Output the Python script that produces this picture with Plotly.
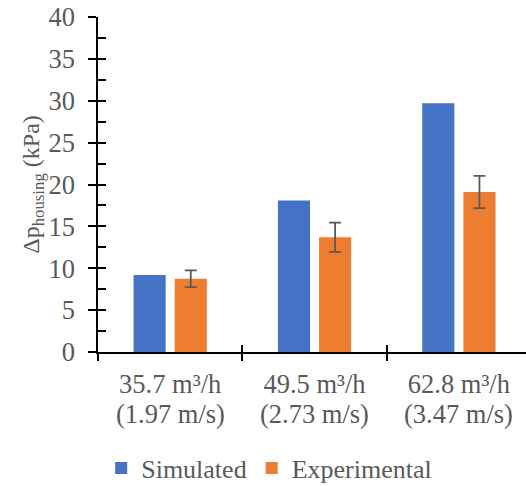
import plotly.graph_objects as go

flow_labels = ["35.7 m³/h", "49.5 m³/h", "62.8 m³/h"]
velocity_labels = ["(1.97 m/s)", "(2.73 m/s)", "(3.47 m/s)"]
simulated = [9.2, 18.1, 29.7]
experimental = [8.75, 13.7, 19.1]
exp_err = [1.0, 1.75, 1.93]
y_ticks = [0, 5, 10, 15, 20, 25, 30, 35, 40]

xpos = list(range(len(flow_labels)))
FONT = "Liberation Serif"
GRAY = "#595959"
fnt = dict(family=FONT, size=26.5, color=GRAY)

fig = go.Figure()
fig.add_trace(go.Bar(x=xpos, y=simulated, name="Simulated", marker=dict(color="#4472C4", line=dict(width=0))))
fig.add_trace(go.Bar(x=xpos, y=experimental, name="Experimental",
                     marker=dict(color="#ED7D31", line=dict(width=0)),
                     error_y=dict(type="data", array=exp_err, visible=True, color=GRAY, thickness=1.8, width=6)))

fig.update_layout(
    width=526, height=486,
    margin=dict(l=98, r=0, t=17, b=134),
    paper_bgcolor="white", plot_bgcolor="white",
    font=fnt,
    barmode="group", bargap=0.43, bargroupgap=0.22,
    showlegend=True,
    legend=dict(orientation="h", x=0.40, xanchor="center", yref="container", y=0.037, yanchor="middle",
                font=dict(family=FONT, size=26, color=GRAY), itemwidth=30, traceorder="normal"),
    xaxis=dict(range=[-0.5, 2.465], tickvals=xpos, ticktext=flow_labels, ticks="", showgrid=False,
               showline=True, linecolor="black", linewidth=1.5, zeroline=False, tickfont=fnt,
               ticklabelstandoff=7),
    xaxis2=dict(overlaying="x", matches="x", side="bottom", anchor="y", tickvals=[-0.5, 0.5, 1.5, 2.5],
                ticks="outside", ticklen=8, tickwidth=1.5, tickcolor="black", showticklabels=False,
                showgrid=False, showline=False, zeroline=False),
    xaxis3=dict(overlaying="x", matches="x", side="bottom", anchor="y", tickvals=[-0.5, 0.5, 1.5, 2.5],
                ticks="inside", ticklen=7, tickwidth=1.5, tickcolor="black", showticklabels=False,
                showgrid=False, showline=False, zeroline=False),
    yaxis=dict(range=[0, 40], tickvals=y_ticks, ticks="outside", ticklen=8, tickwidth=1.5, tickcolor="black",
               showline=True, linecolor="black", linewidth=1.5, showgrid=False, zeroline=False,
               tickfont=fnt, ticklabelstandoff=8,
               title=dict(text="Δp<sub>housing</sub> (kPa)", font=dict(family=FONT, size=24, color=GRAY), standoff=0)),
    yaxis2=dict(overlaying="y", matches="y", anchor="x", side="left", dtick=2.5, tick0=0,
                ticks="inside", ticklen=8, tickwidth=1.5, tickcolor="black", showticklabels=False,
                showgrid=False, showline=False, zeroline=False),
)
fig.add_trace(go.Scatter(x=[0], y=[0], xaxis="x2", yaxis="y2", mode="markers", marker=dict(opacity=0), showlegend=False, hoverinfo="skip"))
fig.add_trace(go.Scatter(x=[0], y=[0], xaxis="x3", yaxis="y", mode="markers", marker=dict(opacity=0), showlegend=False, hoverinfo="skip"))

for xi, lab in zip(xpos, velocity_labels):
    fig.add_annotation(x=xi, xref="x", y=-0.185, yref="paper", yanchor="middle", text=lab,
                       showarrow=False, font=fnt)

fig.write_html("out.html")
